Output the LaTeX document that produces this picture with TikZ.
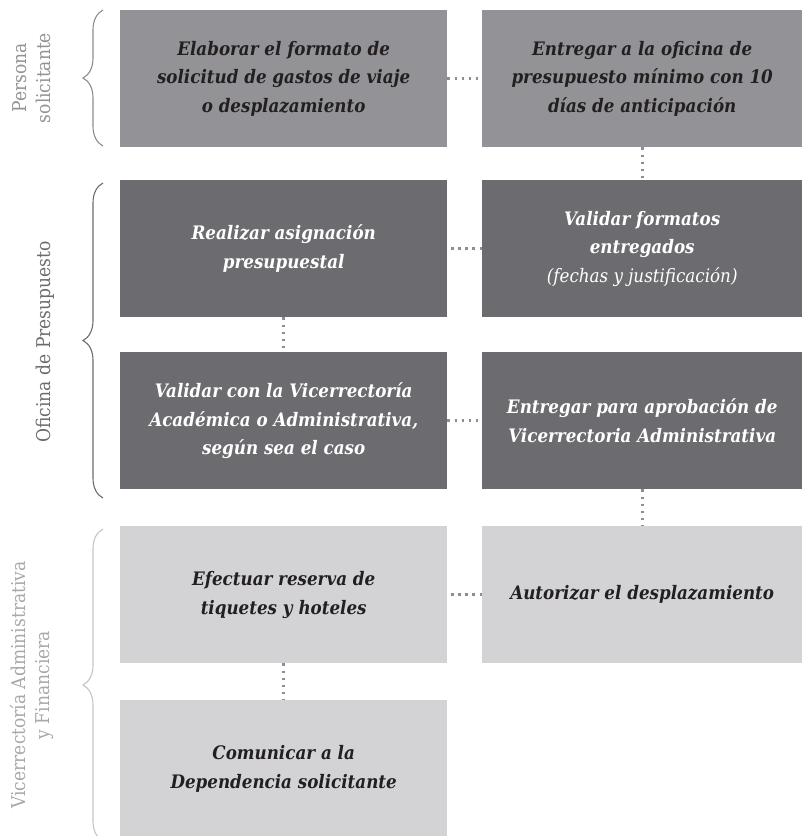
\documentclass[tikz,border=0pt]{standalone}
\usepackage{fontspec}
\setmainfont{DejaVu Serif Condensed}
\usetikzlibrary{decorations.pathreplacing}

\definecolor{grismedio}{HTML}{939397}
\definecolor{grisoscuro}{HTML}{6C6C70}
\definecolor{grisclaro}{HTML}{D3D3D5}
\definecolor{tinta}{HTML}{231F20}
\definecolor{punteo}{HTML}{8E8E92}
\definecolor{llavemedia}{HTML}{8C8C90}
\definecolor{llaveclara}{HTML}{C4C4C6}
\definecolor{rotulomedio}{HTML}{929296}
\definecolor{rotuloclaro}{HTML}{A8A8AB}

\begin{document}
\begin{tikzpicture}[x=1pt, y=-1pt,
  paso/.style = {rectangle, anchor=north west, inner sep=0pt, minimum height=137pt, align=center,
                 font=\fontsize{18.6}{28.7}\selectfont\bfseries\itshape},
  izq/.style = {paso, minimum width=327pt},
  der/.style = {paso, minimum width=320pt},
  solicitante/.style = {fill=grismedio, text=tinta},
  oficina/.style = {fill=grisoscuro, text=white},
  vicerrectoria/.style = {fill=grisclaro, text=tinta},
  enlace/.style = {draw=punteo, line width=3pt, dash pattern=on 2.5pt off 4.6pt},
  llave/.style = {decorate, decoration={brace, amplitude=20pt}, line width=1.1pt},
  grupo/.style = {rotate=90, align=center, font=\fontsize{19}{24}\selectfont}
]
\useasboundingbox (0,0) rectangle (802,836);

% Persona solicitante
\node[izq, solicitante] (elaborar) at (120,10) {Elaborar el formato de\\solicitud de gastos de viaje\\o desplazamiento};
\node[der, solicitante] (entregar) at (482,10) {Entregar a la oficina de\\presupuesto mínimo con 10\\días de anticipación};

% Oficina de Presupuesto
\node[izq, oficina] (asignar) at (120,180) {Realizar asignación\\presupuestal};
\node[der, oficina] (validar) at (482,180) {Validar formatos\\entregados\\{\mdseries(fechas y justificación)}};
\node[izq, oficina] (consultar) at (120,352) {Validar con la Vicerrectoría\\Académica o Administrativa,\\según sea el caso};
\node[der, oficina] (aprobar) at (482,352) {Entregar para aprobación de\\Vicerrectoria Administrativa};

% Vicerrectoria
\node[izq, vicerrectoria] (reservar) at (120,526) {Efectuar reserva de\\tiquetes y hoteles};
\node[der, vicerrectoria] (autorizar) at (482,526) {Autorizar el desplazamiento};
\node[izq, vicerrectoria] (comunicar) at (120,700) {Comunicar a la\\Dependencia solicitante};

% dotted links
\draw[enlace] (elaborar) -- (entregar);
\draw[enlace] (entregar) -- (validar);
\draw[enlace] (validar) -- (asignar);
\draw[enlace] (asignar) -- (consultar);
\draw[enlace] (consultar) -- (aprobar);
\draw[enlace] (aprobar) -- (autorizar);
\draw[enlace] (autorizar) -- (reservar);
\draw[enlace] (reservar) -- (comunicar);

% braces and group labels
\draw[llave, draw=llavemedia] (103,146) -- (103,10);
\draw[llave, draw=grisoscuro] (103,498) -- (103,183);
\draw[llave, draw=llaveclara] (103,841) -- (103,529);

\node[grupo, text=rotulomedio] (persona) at (32,78) {Persona\\solicitante};
\node[grupo, text=grisoscuro] (oficinaP) at (45,342) {Oficina de Presupuesto};
\node[grupo, text=rotuloclaro] (vice) at (32,685) {Vicerrectoría Administrativa\\y Financiera};

\end{tikzpicture}
\end{document}
